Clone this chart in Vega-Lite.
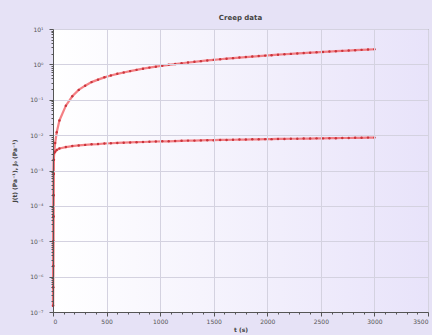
{
  "$schema": "https://vega.github.io/schema/vega-lite/v6.json",
  "width": 375,
  "height": 283,
  "autosize": "none",
  "padding": {"left": 53, "top": 29, "right": 4, "bottom": 23},
  "background": "#e6e2f6",
  "title": {"text": "Creep data", "fontSize": 7, "font": "DejaVu Sans", "fontWeight": "bold", "color": "#444444", "offset": 5},
  "config": {"view": {"stroke": "#777777", "strokeWidth": 1}},
  "datasets": {
    "creep": [
      {"s": "a", "t": 0.5, "J": 1.5e-7}, {"s": "a", "t": 1, "J": 5e-7}, {"s": "a", "t": 2, "J": 2e-6}, {"s": "a", "t": 3, "J": 1e-5}, {"s": "a", "t": 4, "J": 5e-5}, {"s": "a", "t": 5, "J": 2e-4}, {"s": "a", "t": 6, "J": 8e-4}, {"s": "a", "t": 8, "J": 0.002}, {"s": "a", "t": 10, "J": 0.0031}, {"s": "a", "t": 20, "J": 0.006}, {"s": "a", "t": 35, "J": 0.012},
      {"s": "a", "t": 60, "J": 0.026}, {"s": "a", "t": 120, "J": 0.068}, {"s": "a", "t": 180, "J": 0.125}, {"s": "a", "t": 240, "J": 0.19}, {"s": "a", "t": 300, "J": 0.25}, {"s": "a", "t": 360, "J": 0.315}, {"s": "a", "t": 420, "J": 0.37}, {"s": "a", "t": 480, "J": 0.43}, {"s": "a", "t": 540, "J": 0.485}, {"s": "a", "t": 600, "J": 0.54},
      {"s": "a", "t": 660, "J": 0.59}, {"s": "a", "t": 720, "J": 0.645}, {"s": "a", "t": 780, "J": 0.7}, {"s": "a", "t": 840, "J": 0.755}, {"s": "a", "t": 900, "J": 0.81}, {"s": "a", "t": 960, "J": 0.86}, {"s": "a", "t": 1020, "J": 0.915}, {"s": "a", "t": 1080, "J": 0.97}, {"s": "a", "t": 1140, "J": 1.02}, {"s": "a", "t": 1200, "J": 1.075},
      {"s": "a", "t": 1260, "J": 1.13}, {"s": "a", "t": 1320, "J": 1.18}, {"s": "a", "t": 1380, "J": 1.235}, {"s": "a", "t": 1440, "J": 1.29}, {"s": "a", "t": 1500, "J": 1.34}, {"s": "a", "t": 1560, "J": 1.395}, {"s": "a", "t": 1620, "J": 1.45}, {"s": "a", "t": 1680, "J": 1.5}, {"s": "a", "t": 1740, "J": 1.555}, {"s": "a", "t": 1800, "J": 1.61},
      {"s": "a", "t": 1860, "J": 1.66}, {"s": "a", "t": 1920, "J": 1.715}, {"s": "a", "t": 1980, "J": 1.77}, {"s": "a", "t": 2040, "J": 1.82}, {"s": "a", "t": 2100, "J": 1.875}, {"s": "a", "t": 2160, "J": 1.93}, {"s": "a", "t": 2220, "J": 1.98}, {"s": "a", "t": 2280, "J": 2.035}, {"s": "a", "t": 2340, "J": 2.09}, {"s": "a", "t": 2400, "J": 2.14},
      {"s": "a", "t": 2460, "J": 2.195}, {"s": "a", "t": 2520, "J": 2.25}, {"s": "a", "t": 2580, "J": 2.3}, {"s": "a", "t": 2640, "J": 2.355}, {"s": "a", "t": 2700, "J": 2.41}, {"s": "a", "t": 2760, "J": 2.46}, {"s": "a", "t": 2820, "J": 2.515}, {"s": "a", "t": 2880, "J": 2.57}, {"s": "a", "t": 2940, "J": 2.62}, {"s": "a", "t": 3000, "J": 2.675},
      {"s": "b", "t": 0.5, "J": 1.5e-7}, {"s": "b", "t": 1, "J": 5e-7}, {"s": "b", "t": 2, "J": 2e-6}, {"s": "b", "t": 3, "J": 1e-5}, {"s": "b", "t": 4, "J": 5e-5}, {"s": "b", "t": 5, "J": 2e-4}, {"s": "b", "t": 6, "J": 8e-4}, {"s": "b", "t": 8, "J": 0.002}, {"s": "b", "t": 10, "J": 0.0031}, {"s": "b", "t": 20, "J": 0.0034}, {"s": "b", "t": 35, "J": 0.0038},
      {"s": "b", "t": 60, "J": 0.0042}, {"s": "b", "t": 120, "J": 0.0046}, {"s": "b", "t": 180, "J": 0.0049}, {"s": "b", "t": 240, "J": 0.0051}, {"s": "b", "t": 300, "J": 0.0053}, {"s": "b", "t": 360, "J": 0.0055}, {"s": "b", "t": 420, "J": 0.0056}, {"s": "b", "t": 480, "J": 0.0058}, {"s": "b", "t": 540, "J": 0.0059}, {"s": "b", "t": 600, "J": 0.006},
      {"s": "b", "t": 660, "J": 0.0061}, {"s": "b", "t": 720, "J": 0.0062}, {"s": "b", "t": 780, "J": 0.0063}, {"s": "b", "t": 840, "J": 0.0064}, {"s": "b", "t": 900, "J": 0.0065}, {"s": "b", "t": 960, "J": 0.0066}, {"s": "b", "t": 1020, "J": 0.0067}, {"s": "b", "t": 1080, "J": 0.0067}, {"s": "b", "t": 1140, "J": 0.0068}, {"s": "b", "t": 1200, "J": 0.0069},
      {"s": "b", "t": 1260, "J": 0.007}, {"s": "b", "t": 1320, "J": 0.007}, {"s": "b", "t": 1380, "J": 0.0071}, {"s": "b", "t": 1440, "J": 0.0072}, {"s": "b", "t": 1500, "J": 0.0072}, {"s": "b", "t": 1560, "J": 0.0073}, {"s": "b", "t": 1620, "J": 0.0073}, {"s": "b", "t": 1680, "J": 0.0074}, {"s": "b", "t": 1740, "J": 0.0075}, {"s": "b", "t": 1800, "J": 0.0075},
      {"s": "b", "t": 1860, "J": 0.0076}, {"s": "b", "t": 1920, "J": 0.0076}, {"s": "b", "t": 1980, "J": 0.0077}, {"s": "b", "t": 2040, "J": 0.0077}, {"s": "b", "t": 2100, "J": 0.0078}, {"s": "b", "t": 2160, "J": 0.0078}, {"s": "b", "t": 2220, "J": 0.0079}, {"s": "b", "t": 2280, "J": 0.0079}, {"s": "b", "t": 2340, "J": 0.008}, {"s": "b", "t": 2400, "J": 0.008},
      {"s": "b", "t": 2460, "J": 0.0081}, {"s": "b", "t": 2520, "J": 0.0081}, {"s": "b", "t": 2580, "J": 0.0082}, {"s": "b", "t": 2640, "J": 0.0082}, {"s": "b", "t": 2700, "J": 0.0083}, {"s": "b", "t": 2760, "J": 0.0083}, {"s": "b", "t": 2820, "J": 0.0084}, {"s": "b", "t": 2880, "J": 0.0084}, {"s": "b", "t": 2940, "J": 0.0085}, {"s": "b", "t": 3000, "J": 0.0085}
    ]
  },
  "layer": [
    {
      "data": {"values": [{}]},
      "mark": {"type": "rect", "color": {"gradient": "linear", "x1": 0, "x2": 1, "y1": 0, "y2": 0, "stops": [{"offset": 0, "color": "#ffffff"}, {"offset": 1, "color": "#e8e3fa"}]}},
      "encoding": {}
    },
    {
      "data": {"name": "creep"},
      "mark": {"type": "line", "color": "#f26a6e", "strokeWidth": 2.2, "opacity": 0.85, "zindex": 2},
      "encoding": {
        "x": {"field": "t", "type": "quantitative", "scale": {"domain": [0, 3500], "nice": false},
          "axis": {"title": "t (s)", "titleFontSize": 6, "titleFont": "DejaVu Sans", "titleColor": "#444444", "titlePadding": 2, "zindex": 1,
            "values": [0,100,200,300,400,500,600,700,800,900,1000,1100,1200,1300,1400,1500,1600,1700,1800,1900,2000,2100,2200,2300,2400,2500,2600,2700,2800,2900,3000,3100,3200,3300,3400,3500],
            "tickCount": 100,
            "format": "d", "labelOverlap": false,
            "labelExpr": "datum.value % 500 === 0 ? datum.label : ''",
            "labelFontSize": 6, "labelColor": "#555555", "labelFont": "DejaVu Sans", "labelPadding": 2,
            "domainColor": "#555555", "tickColor": "#555555",
            "tickSize": {"condition": {"test": "datum.value % 500 === 0", "value": 4}, "value": 2},
            "gridColor": "#d4d2e0",
            "gridOpacity": {"condition": {"test": "datum.value % 500 === 0", "value": 1}, "value": 0}}},
        "y": {"field": "J", "type": "quantitative", "scale": {"type": "log", "domain": [1e-7, 10], "nice": false},
          "axis": {"title": "J(t) (Pa⁻¹), J₀ (Pa⁻¹)", "titleFontSize": 6, "titleFont": "DejaVu Sans", "titleColor": "#444444", "titlePadding": 12, "zindex": 1,
            "values": [1e-7,2e-7,3e-7,4e-7,5e-7,6e-7,7e-7,8e-7,9e-7,1e-6,2e-6,3e-6,4e-6,5e-6,6e-6,7e-6,8e-6,9e-6,1e-5,2e-5,3e-5,4e-5,5e-5,6e-5,7e-5,8e-5,9e-5,1e-4,2e-4,3e-4,4e-4,5e-4,6e-4,7e-4,8e-4,9e-4,1e-3,2e-3,3e-3,4e-3,5e-3,6e-3,7e-3,8e-3,9e-3,1e-2,2e-2,3e-2,4e-2,5e-2,6e-2,7e-2,8e-2,9e-2,0.1,0.2,0.3,0.4,0.5,0.6,0.7,0.8,0.9,1,2,3,4,5,6,7,8,9,10],
            "tickCount": 200,
            "labelOverlap": false,
            "labelExpr": "abs(log(datum.value)/LN10 - round(log(datum.value)/LN10)) < 0.001 ? ({'-7':'10⁻⁷','-6':'10⁻⁶','-5':'10⁻⁵','-4':'10⁻⁴','-3':'10⁻³','-2':'10⁻²','-1':'10⁻¹','0':'10⁰','1':'10¹'})[round(log(datum.value)/LN10) + ''] : ''",
            "labelFontSize": 6, "labelColor": "#555555", "labelFont": "DejaVu Sans", "labelPadding": 6,
            "domainColor": "#555555", "tickColor": "#555555",
            "tickSize": {"condition": {"test": "abs(log(datum.value)/LN10 - round(log(datum.value)/LN10)) < 0.001", "value": 4}, "value": 2},
            "gridColor": "#d4d2e0",
            "gridOpacity": {"condition": {"test": "abs(log(datum.value)/LN10 - round(log(datum.value)/LN10)) < 0.001", "value": 1}, "value": 0}}},
        "detail": {"field": "s"}
      }
    },
    {
      "data": {"name": "creep"},
      "mark": {"type": "point", "filled": true, "color": "#c8343c", "size": 6, "opacity": 1, "zindex": 3},
      "encoding": {
        "x": {"field": "t", "type": "quantitative"},
        "y": {"field": "J", "type": "quantitative"}
      }
    }
  ]
}
